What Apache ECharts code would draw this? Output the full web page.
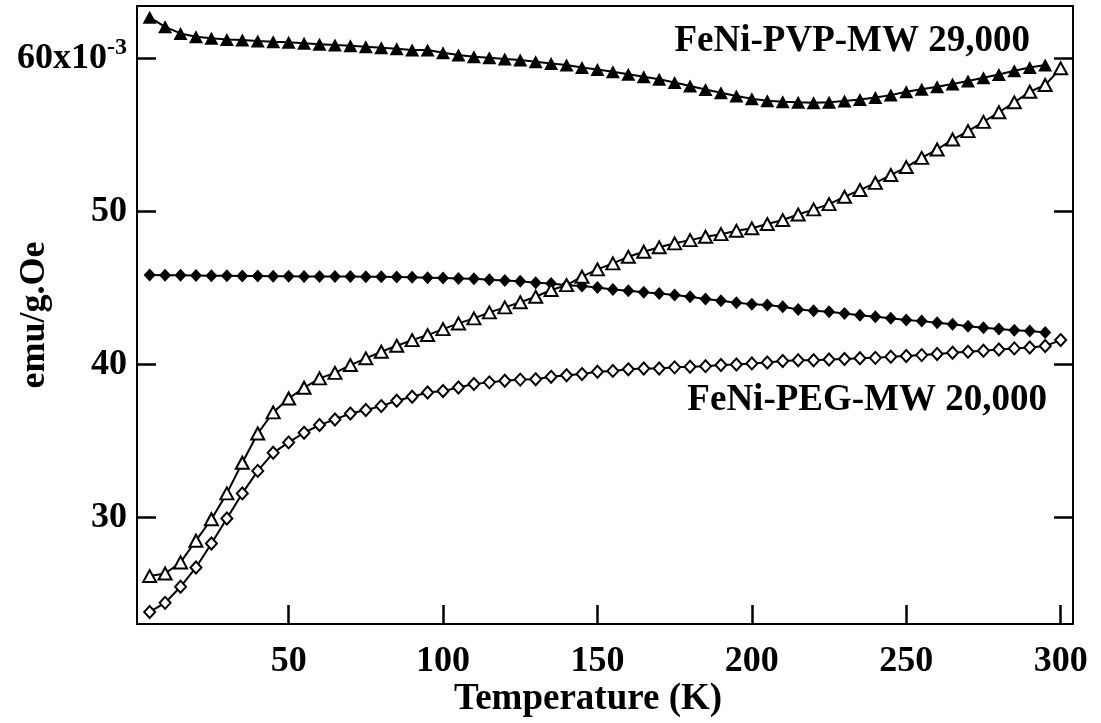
<!DOCTYPE html>
<html lang="en">
<head>
<meta charset="UTF-8">
<title>FeNi magnetization vs temperature</title>
<script src="https://cdn.jsdelivr.net/npm/echarts@6.0.0/dist/echarts.min.js"></script>
<style>
  html, body { margin: 0; padding: 0; background: #fff; }
  #main { position: absolute; left: 0; top: 0; width: 1101px; height: 723px; }
</style>
</head>
<body>
<div id="main"></div>
<script>
// temperature (K)
var temps = [5, 10, 15, 20, 25, 30, 35, 40, 45, 50, 55, 60, 65, 70, 75, 80, 85, 90, 95, 100,
  105, 110, 115, 120, 125, 130, 135, 140, 145, 150, 155, 160, 165, 170, 175, 180, 185, 190, 195, 200,
  205, 210, 215, 220, 225, 230, 235, 240, 245, 250, 255, 260, 265, 270, 275, 280, 285, 290, 295, 300];

// PVP, filled triangles (5..295)
var pvpFilled = [62.68, 62.06, 61.63, 61.41, 61.31, 61.24, 61.2, 61.13, 61.08, 61.05,
  60.98, 60.93, 60.87, 60.82, 60.76, 60.69, 60.63, 60.54, 60.55, 60.36,
  60.22, 60.1, 60.04, 59.96, 59.89, 59.78, 59.67, 59.56, 59.41, 59.28,
  59.12, 58.97, 58.8, 58.63, 58.43, 58.19, 57.97, 57.75, 57.54, 57.36,
  57.23, 57.17, 57.13, 57.1, 57.13, 57.21, 57.32, 57.45, 57.6, 57.82,
  57.99, 58.14, 58.32, 58.52, 58.73, 58.95, 59.19, 59.41, 59.56];

// PVP, open triangles (5..300)
var pvpOpen = [26.19, 26.36, 27.08, 28.5, 29.9, 31.59, 33.59, 35.5, 36.88, 37.79,
  38.49, 39.1, 39.46, 39.97, 40.41, 40.84, 41.23, 41.6, 41.93, 42.32,
  42.69, 43.02, 43.41, 43.74, 44.07, 44.43, 44.87, 45.19, 45.74, 46.22,
  46.61, 47.04, 47.37, 47.66, 47.92, 48.13, 48.35, 48.52, 48.74, 48.9,
  49.18, 49.44, 49.8, 50.14, 50.48, 50.96, 51.4, 51.87, 52.38, 52.9,
  53.5, 54.05, 54.7, 55.25, 55.85, 56.48, 57.13, 57.82, 58.26, 59.35];

// PEG, filled diamonds (5..295)
var pegFilled = [45.85, 45.84, 45.83, 45.82, 45.81, 45.8, 45.79, 45.78, 45.77, 45.77,
  45.76, 45.76, 45.75, 45.75, 45.74, 45.73, 45.72, 45.7, 45.68, 45.66,
  45.63, 45.6, 45.55, 45.5, 45.45, 45.34, 45.3, 45.19, 45.13, 45.04,
  44.91, 44.82, 44.72, 44.65, 44.54, 44.43, 44.28, 44.17, 44.04, 43.95,
  43.89, 43.78, 43.6, 43.51, 43.45, 43.34, 43.23, 43.12, 43.02, 42.91,
  42.84, 42.73, 42.63, 42.51, 42.4, 42.32, 42.25, 42.19, 42.1];

// PEG, open diamonds (5..300)
var pegOpen = [23.85, 24.44, 25.49, 26.75, 28.32, 29.95, 31.59, 33.06, 34.24, 34.92,
  35.55, 36.05, 36.42, 36.81, 37.03, 37.29, 37.64, 37.9, 38.18, 38.27,
  38.51, 38.73, 38.84, 38.94, 39.02, 39.05, 39.2, 39.31, 39.38, 39.53,
  39.59, 39.69, 39.75, 39.75, 39.82, 39.86, 39.9, 39.97, 40.01, 40.08,
  40.14, 40.23, 40.29, 40.29, 40.34, 40.36, 40.41, 40.44, 40.51, 40.56,
  40.62, 40.69, 40.77, 40.84, 40.9, 40.99, 41.06, 41.12, 41.21, 41.6];

var xTicks = [50, 100, 150, 200, 250, 300];
var yTicks = [30, 40, 50, 60];

var FONT = '"Liberation Serif", "Times New Roman", serif';

function pairs(vals) {
  return vals.map(function (v, i) { return [temps[i], v]; });
}

function mk(name, vals, symbol, filled, size) {
  return {
    name: name,
    type: 'line',
    data: pairs(vals),
    symbol: symbol,
    symbolSize: size,
    showAllSymbol: true,
    lineStyle: { color: '#000', width: 2 },
    itemStyle: {
      color: filled ? '#000' : '#fff',
      borderColor: '#000',
      borderWidth: filled ? 0 : 2
    },
    emphasis: { disabled: true },
    z: 3
  };
}

var myChart = echarts.init(document.getElementById('main'));

var option = {
  animation: false,
  backgroundColor: '#fff',
  grid: { left: 137, top: 6, width: 936, height: 618, outerBoundsMode: 'none', containLabel: false },
  xAxis: [{
    type: 'value',
    min: 0.9,
    max: 304,
    name: 'Temperature (K)',
    nameLocation: 'middle',
    nameGap: 57,
    nameMoveOverlap: false,
    nameTextStyle: { fontFamily: FONT, fontWeight: 'bold', fontSize: 37, color: '#000', padding: [0, 34, 0, 0] },
    axisLine: { lineStyle: { color: '#000', width: 2 } },
    axisTick: { inside: true, length: 19, customValues: xTicks, lineStyle: { color: '#000', width: 2.5 } },
    axisLabel: { customValues: xTicks, margin: 20, fontFamily: FONT, fontWeight: 'bold', fontSize: 36, color: '#000' },
    splitLine: { show: false }
  }, {
    type: 'value',
    position: 'top',
    min: 0.9,
    max: 304,
    axisLine: { lineStyle: { color: '#000', width: 2 } },
    axisTick: { show: false },
    axisLabel: { show: false },
    splitLine: { show: false }
  }],
  yAxis: [{
    type: 'value',
    min: 23.06,
    max: 63.42,
    name: 'emu/g.Oe',
    nameLocation: 'middle',
    nameGap: 84,
    nameMoveOverlap: false,
    nameTextStyle: { fontFamily: FONT, fontWeight: 'bold', fontSize: 36, color: '#000' },
    axisLine: { lineStyle: { color: '#000', width: 2 } },
    axisTick: { inside: true, length: 19, customValues: yTicks, lineStyle: { color: '#000', width: 2.5 } },
    axisLabel: {
      customValues: yTicks,
      margin: 10,
      formatter: function (v) {
        return v === 60 ? '{b|60x10}{s|-3}' : '{b|' + v + '}';
      },
      rich: {
        b: { fontFamily: FONT, fontWeight: 'bold', fontSize: 36, color: '#000' },
        s: { fontFamily: FONT, fontWeight: 'bold', fontSize: 24, color: '#000', verticalAlign: 'bottom', padding: [0, 0, 22, 0] }
      }
    },
    splitLine: { show: false }
  }, {
    type: 'value',
    position: 'right',
    min: 23.06,
    max: 63.42,
    axisLine: { lineStyle: { color: '#000', width: 2 } },
    axisTick: { inside: true, length: 19, customValues: yTicks, lineStyle: { color: '#000', width: 2.5 } },
    axisLabel: { show: false },
    splitLine: { show: false }
  }],
  graphic: [{
    type: 'text',
    right: 71,
    top: 23,
    style: { text: 'FeNi-PVP-MW 29,000', font: 'bold 37px ' + FONT, fill: '#000' }
  }, {
    type: 'text',
    right: 54,
    top: 382,
    style: { text: 'FeNi-PEG-MW 20,000', font: 'bold 37px ' + FONT, fill: '#000' }
  }],
  series: [
    mk('PEG filled', pegFilled, 'diamond', true, [12, 13]),
    mk('PEG open', pegOpen, 'diamond', false, [11, 12]),
    mk('PVP filled', pvpFilled, 'triangle', true, [14, 13]),
    mk('PVP open', pvpOpen, 'triangle', false, [13, 12])
  ]
};

myChart.setOption(option);
</script>
</body>
</html>
